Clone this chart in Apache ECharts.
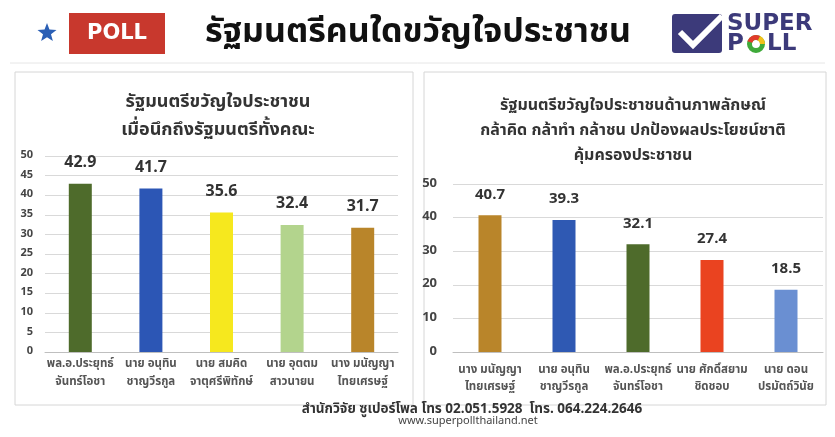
<!DOCTYPE html>
<html><head><meta charset="utf-8">
<script src="https://cdn.jsdelivr.net/npm/echarts@6/dist/echarts.min.js"></script>
<style>html,body{margin:0;padding:0;background:#fff;}#c{width:835px;height:437px;}</style>
</head><body><div id="c"></div>
<script>
const mainTitle = 'รัฐมนตรีคนใดขวัญใจประชาชน';
const leftTitle = 'รัฐมนตรีขวัญใจประชาชน\nเมื่อนึกถึงรัฐมนตรีทั้งคณะ';
const rightTitle = 'รัฐมนตรีขวัญใจประชาชนด้านภาพลักษณ์\nกล้าคิด กล้าทำ กล้าชน ปกป้องผลประโยชน์ชาติ\nคุ้มครองประชาชน';
const leftCategories = ['พล.อ.ประยุทธ์\nจันทร์โอชา','นาย อนุทิน\nชาญวีรกูล','นาย สมคิด\nจาตุศรีพิทักษ์','นาย อุตตม\nสาวนายน','นาง มนัญญา\nไทยเศรษฐ์'];
const leftValues = [42.9, 41.7, 35.6, 32.4, 31.7];
const leftColors = ['#4e6b2b','#2c56b5','#f6e81e','#b3d48d','#b9852a'];
const rightCategories = ['นาง มนัญญา\nไทยเศรษฐ์','นาย อนุทิน\nชาญวีรกูล','พล.อ.ประยุทธ์\nจันทร์โอชา','นาย ศักดิ์สยาม\nชิดชอบ','นาย ดอน\nปรมัตถ์วินัย'];
const rightValues = [40.7, 39.3, 32.1, 27.4, 18.5];
const rightColors = ['#b9852a','#2f59b3','#4e6b2b','#ea4320','#6a8fd2'];
const leftTicks = [0,5,10,15,20,25,30,35,40,45,50];
const rightTicks = [0,10,20,30,40,50];
const footer1 = 'สำนักวิจัย ซูเปอร์โพล โทร 02.051.5928  โทร. 064.224.2646';
const footer2 = 'www.superpollthailand.net';

const FF = '"Noto Sans Thai","Noto Sans","Loma","Garuda",sans-serif';
const chart = echarts.init(document.getElementById('c'));

function mkData(vals, cols){ return vals.map((v,i)=>({value:v,itemStyle:{color:cols[i]}})); }

chart.setOption({
  backgroundColor:'#ffffff',
  textStyle:{fontFamily:FF},
  title:[
    {text:leftTitle,left:213,top:84,textAlign:'center',textStyle:{fontFamily:FF,fontSize:18,fontWeight:'bold',color:'#333',lineHeight:28}},
    {text:rightTitle,left:628,top:89,textAlign:'center',textStyle:{fontFamily:FF,fontSize:16,fontWeight:'bold',color:'#333',lineHeight:25}}
  ],
  grid:[
    {left:45,right:437,top:156,bottom:85},
    {left:453,right:12,top:184,bottom:85}
  ],
  xAxis:[
    {type:'category',gridIndex:0,data:leftCategories,axisTick:{show:false},axisLine:{lineStyle:{color:'#bfbfbf'}},
     axisLabel:{fontFamily:FF,fontSize:11.5,fontWeight:'bold',color:'#555',lineHeight:18,margin:4,interval:0}},
    {type:'category',gridIndex:1,data:rightCategories,axisTick:{show:false},axisLine:{lineStyle:{color:'#bfbfbf'}},
     axisLabel:{fontFamily:FF,fontSize:11.5,fontWeight:'bold',color:'#555',lineHeight:17,margin:10,interval:0}}
  ],
  yAxis:[
    {type:'value',gridIndex:0,min:leftTicks[0],max:leftTicks[leftTicks.length-1],interval:5,
     axisLabel:{fontFamily:FF,fontSize:11,fontWeight:'bold',color:'#444',margin:12},
     splitLine:{lineStyle:{color:'#d9d9d9'}},axisLine:{show:false},axisTick:{show:false}},
    {type:'value',gridIndex:1,min:rightTicks[0],max:rightTicks[rightTicks.length-1],interval:10,
     axisLabel:{fontFamily:FF,fontSize:13,fontWeight:'bold',color:'#444',margin:16},
     splitLine:{lineStyle:{color:'#d9d9d9'}},axisLine:{show:false},axisTick:{show:false}}
  ],
  series:[
    {type:'bar',xAxisIndex:0,yAxisIndex:0,barWidth:23,data:mkData(leftValues,leftColors),
     label:{show:true,position:'top',distance:12,fontFamily:FF,fontSize:16,fontWeight:'bold',color:'#333'}},
    {type:'bar',xAxisIndex:1,yAxisIndex:1,barWidth:23,data:mkData(rightValues,rightColors),
     label:{show:true,position:'top',distance:12,fontFamily:FF,fontSize:15,fontWeight:'bold',color:'#333'}}
  ],
  graphic:[
    {type:'rect',shape:{x:15,y:72,width:398,height:333},style:{fill:'none',stroke:'#d6d6d6',lineWidth:1},z:-1},
    {type:'rect',shape:{x:424,y:72,width:402,height:333},style:{fill:'none',stroke:'#d6d6d6',lineWidth:1},z:-1},
    {type:'line',shape:{x1:10,y1:63,x2:825,y2:63},style:{stroke:'#e6e6e6',lineWidth:1}},
    {type:'polygon',shape:{points:(function(){const p=[];const cx=47,cy=33,R=10,r=4.2;for(let i=0;i<10;i++){const a=-Math.PI/2+i*Math.PI/5;const rr=i%2?r:R;p.push([cx+rr*Math.cos(a),cy+rr*Math.sin(a)]);}return p;})()},style:{fill:'#2b5fb5'}},
    {type:'rect',shape:{x:69,y:13,width:96,height:41},style:{fill:'#c8382d'}},
    {type:'text',style:{text:'POLL',x:117,y:34,align:'center',verticalAlign:'middle',fontFamily:'"DejaVu Sans",sans-serif',fontSize:21,fontWeight:'bold',fill:'#ffffff'}},
    {type:'text',style:{text:mainTitle,x:418,y:35,align:'center',verticalAlign:'middle',fontFamily:FF,fontSize:34,fontWeight:'bold',fill:'#111'}},
    {type:'rect',shape:{x:672,y:14,width:50,height:39,r:3},style:{fill:'#3c3a7a'}},
    {type:'polyline',shape:{points:[[680,32],[693,45],[722,16]]},style:{stroke:'#ffffff',lineWidth:6,fill:'none'}},
    {type:'text',style:{text:'SUPER',x:727,y:24,align:'left',verticalAlign:'middle',fontFamily:'"DejaVu Sans",sans-serif',fontSize:23,fontWeight:'bold',fill:'#3c3a7a'}},
    {type:'text',style:{text:'P',x:727,y:44,align:'left',verticalAlign:'middle',fontFamily:'"DejaVu Sans",sans-serif',fontSize:23,fontWeight:'bold',fill:'#3c3a7a'}},
    {type:'sector',shape:{cx:756,cy:44,r:9,r0:4,startAngle:0,endAngle:Math.PI*2},style:{fill:'#3faa3a'}},
    {type:'sector',shape:{cx:756,cy:44,r:9,r0:4,startAngle:-Math.PI*0.9,endAngle:-Math.PI*0.35},style:{fill:'#e23b2a'}},
    {type:'sector',shape:{cx:756,cy:44,r:9,r0:4,startAngle:-Math.PI*0.35,endAngle:0},style:{fill:'#f2c21b'}},
    {type:'text',style:{text:'LL',x:767,y:44,align:'left',verticalAlign:'middle',fontFamily:'"DejaVu Sans",sans-serif',fontSize:23,fontWeight:'bold',fill:'#3c3a7a'}},
    {type:'text',style:{text:footer1,x:472,y:410,align:'center',verticalAlign:'middle',fontFamily:FF,fontSize:13.5,fontWeight:'bold',fill:'#333'}},
    {type:'text',style:{text:footer2,x:468,y:422,align:'center',verticalAlign:'middle',fontFamily:FF,fontSize:11,fill:'#444'}}
  ]
});
</script></body></html>
